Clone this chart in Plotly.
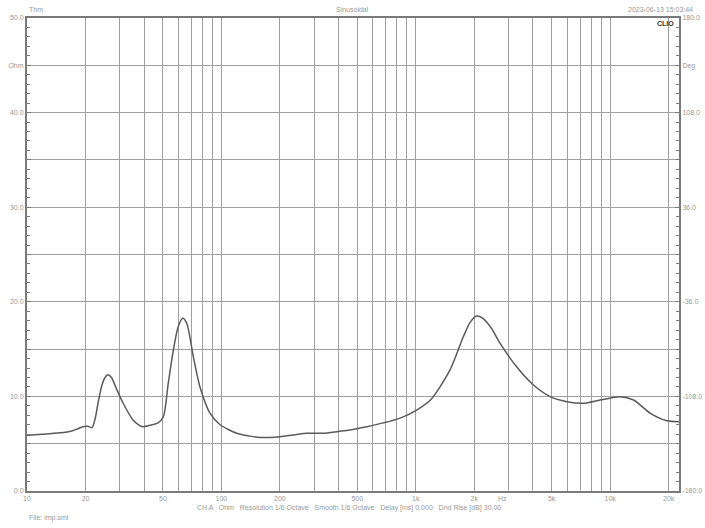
import plotly.graph_objects as go

# ---- data ----
freq_hz = [10, 12, 14.8, 17, 18.1, 19.4, 20.5, 21.6, 22.5, 23.2, 24.3, 25.2, 26.1, 27.2,
           28.6, 31.2, 35.1, 37.5, 39.5, 43, 47.2, 50.3, 53.3, 56.6, 60, 63.3, 66.4,
           71.7, 77.6, 87.5, 98.5, 120, 140, 158, 200, 240, 275, 333, 400, 457, 560,
           682, 831, 1000, 1200, 1500, 1755, 1900, 2050, 2200, 2450, 2715, 3310, 4030, 4910,
           5990, 7290, 8880, 11250, 13200, 16100, 19600, 22600]
impedance_ohm = [5.9, 6.0, 6.15, 6.35, 6.55, 6.8, 6.85, 6.7, 7.8, 9.3, 11.2, 12.0, 12.3, 12.0,
                 11.0, 9.3, 7.5, 7.0, 6.8, 6.95, 7.2, 7.85, 11.4, 14.9, 17.4, 18.25, 17.7,
                 14.2, 11.0, 8.2, 7.0, 6.1, 5.8, 5.65, 5.74, 5.95, 6.1, 6.1, 6.3, 6.45, 6.8,
                 7.2, 7.7, 8.5, 9.7, 12.8, 16.3, 17.8, 18.5, 18.3, 17.2, 15.6, 13.1, 11.2, 9.97,
                 9.44, 9.27, 9.62, 9.97, 9.62, 8.21, 7.43, 7.33]

x_grid = [10, 20, 30, 40, 50, 60, 70, 80, 90,
          100, 200, 300, 400, 500, 600, 700, 800, 900,
          1000, 2000, 3000, 4000, 5000, 6000, 7000, 8000, 9000,
          10000, 20000]
x_labels = {10: "10", 20: "20", 50: "50", 100: "100", 200: "200", 500: "500",
            1000: "1k", 2000: "2k", 5000: "5k", 10000: "10k", 20000: "20k"}

y_left_vals = [0, 5, 10, 15, 20, 25, 30, 35, 40, 45, 50]
y_left_text = ["0.0", "", "10.0", "", "20.0", "", "30.0", "", "40.0", "Ohm", "50.0"]
y_right_vals = [-180, -108, -36, 36, 108, 144, 180]
y_right_text = ["-180.0", "-108.0", "-36.0", "36.0", "108.0", "Deg", "180.0"]

title_left = "Thm"
title_center = "Sinusoidal"
title_right = "2023-06-13 15:03:44"
footer_info = "CH A   Ohm   Resolution 1/6 Octave   Smooth 1/6 Octave   Delay [ms] 0.000   Dnd Rise [dB] 30.00"
footer_file = "File: imp.sml"

GRID = "#a0a0a0"
FRAME = "#7a7a7a"
TXT = "#999999"
FONT = "Liberation Sans"

fig = go.Figure()
fig.add_trace(go.Scatter(x=freq_hz, y=impedance_ohm, mode="lines",
                         line=dict(color="#5a5a5a", width=1.5, shape="spline", smoothing=0.7),
                         showlegend=False, hoverinfo="skip"))
# invisible trace for the right axis
fig.add_trace(go.Scatter(x=[10], y=[0], yaxis="y2", mode="markers",
                         marker=dict(opacity=0), showlegend=False, hoverinfo="skip"))

W, H = 705, 528
pl, pr, pt, pb = 27, 26, 18, 37
pw, ph = W - pl - pr, H - pt - pb

fig.update_layout(
    width=W, height=H,
    margin=dict(l=pl, r=pr, t=pt, b=pb),
    paper_bgcolor="white", plot_bgcolor="white",
    font=dict(family=FONT, size=7, color=TXT),
    xaxis=dict(type="log", range=[1, 4.354], automargin=False,
               tickvals=x_grid, ticktext=[x_labels.get(v, "") for v in x_grid],
               showgrid=True, gridcolor=GRID, gridwidth=1,
               showline=True, linecolor=FRAME, linewidth=2, mirror=True,
               ticks="", zeroline=False, tickfont=dict(size=7, color=TXT, family=FONT)),
    yaxis=dict(range=[0, 50], tickvals=y_left_vals, ticktext=y_left_text, automargin=False,
               showgrid=True, gridcolor=GRID, gridwidth=1,
               showline=True, linecolor=FRAME, linewidth=2, mirror=True,
               ticks="inside", ticklen=4, tickcolor=FRAME,
               minor=dict(dtick=1, tick0=0, ticks="inside", ticklen=3, tickcolor=FRAME, showgrid=False),
               zeroline=False, tickfont=dict(size=7, color=TXT, family=FONT)),
    yaxis2=dict(range=[-180, 180], overlaying="y", side="right", automargin=False,
                tickvals=y_right_vals, ticktext=y_right_text,
                showgrid=False, showline=True, linecolor=FRAME, linewidth=2,
                ticks="inside", ticklen=4, tickcolor=FRAME,
                minor=dict(dtick=7.2, tick0=-180, ticks="inside", ticklen=3, tickcolor=FRAME),
                zeroline=False, tickfont=dict(size=7, color=TXT, family=FONT)),
)


def px(xp):
    return (xp - pl) / pw


def py(yp):
    return (H - pb - yp) / ph


ann = [
    dict(text=title_left, x=px(27), y=py(9), xanchor="left"),
    dict(text=title_center, x=px(352), y=py(9), xanchor="center"),
    dict(text=title_right, x=px(695), y=py(9), xanchor="right"),
    dict(text="<b>CLIO</b>", x=px(676), y=py(23), xanchor="right",
         font=dict(size=7, color="#333333", family=FONT)),
    dict(text="Hz", x=px(502), y=py(498), xanchor="center"),
    dict(text=footer_info, x=px(349), y=py(508), xanchor="center"),
    dict(text=footer_file, x=px(27), y=py(518), xanchor="left"),
]
for a in ann:
    a.update(dict(xref="paper", yref="paper", showarrow=False, yanchor="middle"))
    if "font" not in a:
        a["font"] = dict(size=7, color=TXT, family=FONT)
    fig.add_annotation(**a)

fig.write_html("out.html",
               config={"displayModeBar": False, "staticPlot": True},
               post_script="document.body.style.margin='0px';document.body.style.overflow='hidden';")
